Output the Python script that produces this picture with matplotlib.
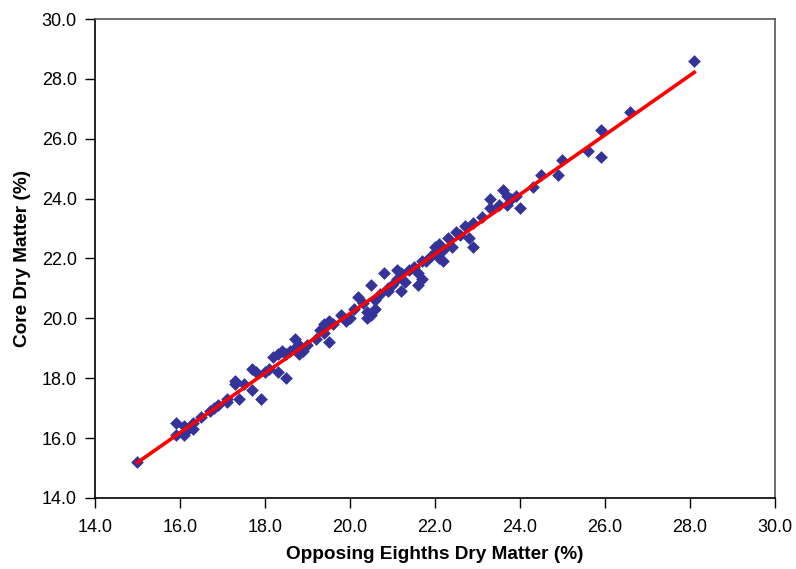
import numpy as np
import matplotlib.pyplot as plt

plt.rcParams['font.family'] = ['Liberation Sans', 'DejaVu Sans']

# Opposing eighths vs core dry matter (%)
eighths = [15.0, 15.9, 15.9, 16.1, 16.1, 16.2, 16.3, 16.3, 16.5, 16.7,
           16.8, 16.9, 17.1, 17.1, 17.3, 17.3, 17.4, 17.5, 17.7, 17.7,
           17.8, 17.9, 18.0, 18.1, 18.2, 18.3, 18.3, 18.4, 18.5, 18.5,
           18.6, 18.7, 18.7, 18.8, 18.8, 18.9, 19.0, 19.2, 19.3, 19.4,
           19.4, 19.5, 19.5, 19.6, 19.8, 19.9, 20.0, 20.1, 20.2, 20.3,
           20.4, 20.4, 20.5, 20.5, 20.6, 20.6, 20.7, 20.8, 20.9, 20.9,
           21.0, 21.1, 21.1, 21.2, 21.2, 21.3, 21.4, 21.5, 21.6, 21.6,
           21.7, 21.7, 21.8, 21.9, 22.0, 22.0, 22.1, 22.1, 22.2, 22.2,
           22.3, 22.4, 22.5, 22.6, 22.7, 22.8, 22.9, 22.9, 23.1, 23.3,
           23.3, 23.5, 23.6, 23.7, 23.7, 23.8, 23.9, 24.0, 24.3, 24.5,
           24.9, 25.0, 25.6, 25.9, 25.9, 26.6, 28.1]
core = [15.2, 16.5, 16.1, 16.4, 16.1, 16.3, 16.5, 16.3, 16.7, 16.9,
        17.0, 17.1, 17.3, 17.2, 17.8, 17.9, 17.3, 17.8, 18.3, 17.6,
        18.2, 17.3, 18.2, 18.3, 18.7, 18.8, 18.2, 18.9, 18.8, 18.0,
        18.9, 19.3, 19.0, 19.1, 18.8, 18.9, 19.1, 19.3, 19.6, 19.8,
        19.5, 19.9, 19.2, 19.8, 20.1, 19.9, 20.0, 20.3, 20.7, 20.5,
        20.2, 20.0, 21.1, 20.1, 20.3, 20.6, 20.8, 21.5, 21.0, 20.9,
        21.1, 21.6, 21.3, 21.5, 20.9, 21.2, 21.6, 21.7, 21.1, 21.5,
        21.9, 21.3, 21.9, 22.1, 22.2, 22.4, 22.5, 22.0, 22.3, 21.9,
        22.7, 22.4, 22.9, 22.8, 23.1, 22.7, 23.2, 22.4, 23.4, 23.7,
        24.0, 23.8, 24.3, 24.1, 23.8, 24.0, 24.1, 23.7, 24.4, 24.8,
        24.8, 25.3, 25.6, 25.4, 26.3, 26.9, 28.6]

ticks = [14.0, 16.0, 18.0, 20.0, 22.0, 24.0, 26.0, 28.0, 30.0]

x = np.array(eighths)
y = np.array(core)
slope, intercept = np.polyfit(x, y, 1)
fit_x = np.array([x.min(), x.max()])

fig = plt.figure(figsize=(7.96, 5.69), dpi=100)
ax = fig.add_axes([0.1193, 0.1248, 0.8543, 0.8418])

ax.scatter(x, y, marker='D', s=42, color='#333399', linewidths=0, zorder=2)
ax.plot(fit_x, intercept + slope * fit_x, color='#ff0000', lw=2.6, zorder=3)

ax.set_xlim(14, 30)
ax.set_ylim(14, 30)
ax.set_xticks(ticks)
ax.set_yticks(ticks)
ax.set_xticklabels([f'{t:.1f}' for t in ticks])
ax.set_yticklabels([f'{t:.1f}' for t in ticks])
ax.tick_params(direction='out', length=7, width=1, labelsize=13)
ax.tick_params(axis='x', pad=8)
ax.tick_params(axis='y', pad=6)
for sp in ax.spines.values():
    sp.set_linewidth(1.2)
ax.spines['top'].set_color('#555555')
ax.spines['right'].set_color('#555555')

ax.set_xlabel('Opposing Eighths Dry Matter (%)', fontsize=13.7, fontweight='bold', labelpad=7)
ax.set_ylabel('Core Dry Matter (%)', fontsize=13.7, fontweight='bold', labelpad=8)

plt.savefig('out.png', dpi=100)
